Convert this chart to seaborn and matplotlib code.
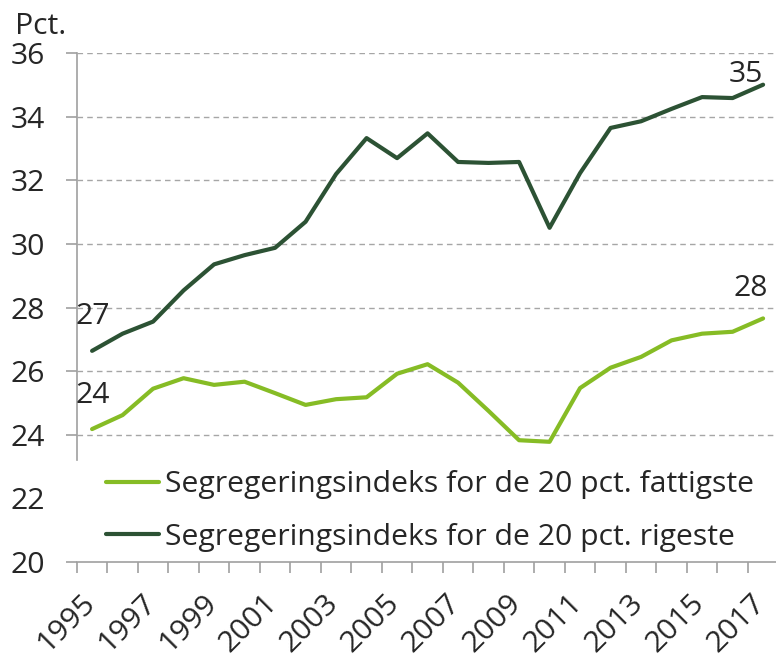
import numpy as np
import pandas as pd
import matplotlib
matplotlib.use("Agg")
import matplotlib.pyplot as plt
import matplotlib.transforms as mtransforms
import seaborn as sns

years = list(range(1995, 2018))
poor = [24.18, 24.62, 25.45, 25.78, 25.57, 25.67, 25.31, 24.94, 25.12, 25.18,
        25.92, 26.22, 25.64, 24.75, 23.83, 23.78, 25.47, 26.11, 26.45, 26.97,
        27.18, 27.24, 27.66]
rich = [26.64, 27.18, 27.56, 28.54, 29.36, 29.65, 29.88, 30.70, 32.20, 33.33,
        32.70, 33.48, 32.58, 32.55, 32.58, 30.51, 32.23, 33.65, 33.86, 34.25,
        34.62, 34.59, 35.01]
series_names = ["Segregeringsindeks for de 20 pct. fattigste",
                "Segregeringsindeks for de 20 pct. rigeste"]
colors = ["#86BC25", "#2C5234"]
yticks = [20, 22, 24, 26, 28, 30, 32, 34, 36]
end_labels = {"poor": ("24", "28"), "rich": ("27", "35")}

sns.set_theme(style="white")
plt.rcParams['font.family'] = ['Open Sans', 'DejaVu Sans']
FS = 21.7

df = pd.DataFrame({
    "idx": list(range(len(years))) * 2,
    "value": poor + rich,
    "series": [series_names[0]] * len(years) + [series_names[1]] * len(years),
})

fig = plt.figure(figsize=(7.76, 6.57), dpi=100)
ax = fig.add_axes([0.099, 0.1446, 0.904, 0.7744])

sns.lineplot(data=df, x="idx", y="value", hue="series", palette=colors,
             linewidth=3, ax=ax, legend=True)

ax.set_xlim(-0.5, len(years) - 0.5)
ax.set_ylim(20, 36)
ax.set_xlabel("")
ax.set_ylabel("")

gray = "#A0A0A0"
for s in ["top", "right"]:
    ax.spines[s].set_visible(False)
ax.spines["left"].set_color(gray)
ax.spines["bottom"].set_color(gray)
ax.spines["left"].set_bounds(23.2, 36)
ax.spines["left"].set_linewidth(1.2)
ax.spines["bottom"].set_linewidth(1.2)

ax.set_yticks(yticks)
ax.set_yticklabels([str(t) for t in yticks], fontsize=FS)
ax.tick_params(axis="y", which="major", length=8, color=gray, width=1.2,
               pad=15, direction="out", left=True)
ax.yaxis.grid(True, linestyle=(0, (4, 3)), color="#A6A6A6", linewidth=1)
for t, v in zip(ax.yaxis.get_major_ticks(), yticks):
    if v == 22:
        t.tick1line.set_visible(False)
        t.gridline.set_visible(False)
    if v == 20:
        t.gridline.set_visible(False)

# x axis: labels every other year, tick marks at category boundaries
major_idx = list(range(0, len(years), 2))
ax.set_xticks(major_idx)
ax.set_xticklabels([str(years[i]) for i in major_idx], fontsize=FS,
                   rotation=45, ha="right", va="top", rotation_mode="anchor")
ax.set_xticks(np.arange(-0.5, len(years), 1.0), minor=True)
ax.tick_params(axis="x", which="major", length=0, pad=19)
ax.tick_params(axis="x", which="minor", length=8, color=gray, width=1.2,
               direction="out", bottom=True)
offset = mtransforms.ScaledTranslation(-12 / 100, 0, fig.dpi_scale_trans)
for lbl in ax.get_xticklabels():
    lbl.set_transform(lbl.get_transform() + offset)

# value labels
ax.text(-0.55, 25.0, end_labels["poor"][0], fontsize=FS, ha="left", va="baseline")
ax.text(-0.55, 27.48, end_labels["rich"][0], fontsize=FS, ha="left", va="baseline")
ax.text(len(years) - 0.85, poor[-1] + 0.7, end_labels["poor"][1], fontsize=FS, ha="right", va="baseline")
ax.text(len(years) - 1.0, rich[-1] + 0.1, end_labels["rich"][1], fontsize=FS, ha="right", va="baseline")

leg = ax.legend(loc="center left", bbox_to_anchor=(0.02, 0.10), frameon=False,
                fontsize=FS, handlelength=1.75, handletextpad=0.2,
                labelspacing=0.78, borderpad=0)
for h in leg.get_lines():
    h.set_linewidth(3)

fig.text(0.019, 0.96, "Pct.", fontsize=FS, ha="left", va="center")

fig.savefig("out.png", dpi=100)
